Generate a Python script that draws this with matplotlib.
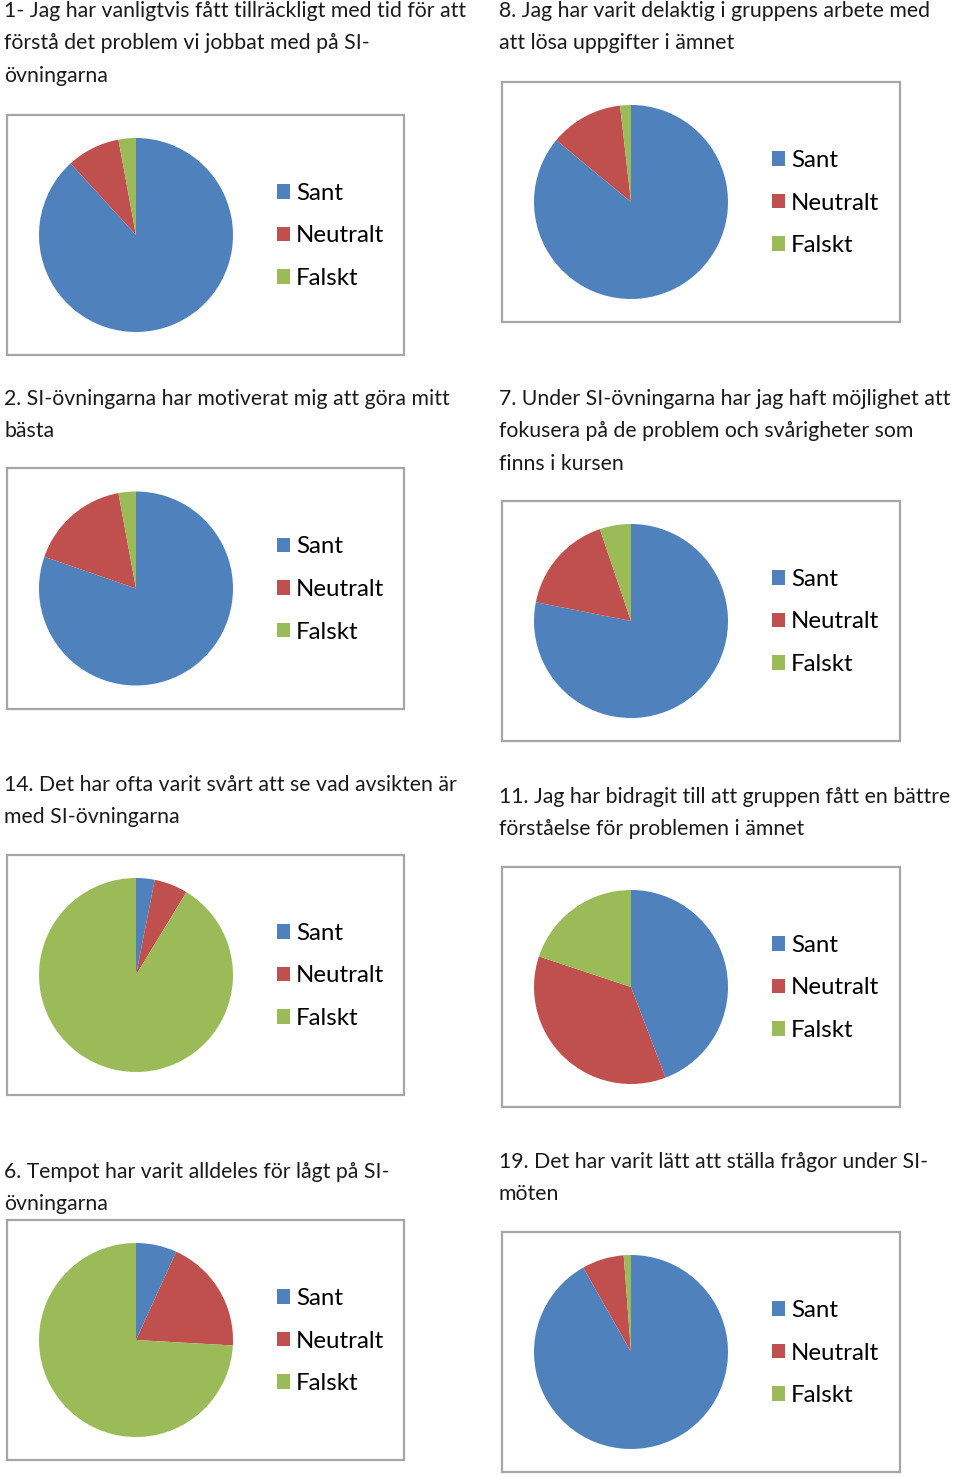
import matplotlib.pyplot as plt
from matplotlib.patches import Rectangle

plt.rcParams['font.family'] = ['Lato', 'DejaVu Sans']

W, H = 960, 1477

labels = ['Sant', 'Neutralt', 'Falskt']
colors = ['#4F81BD', '#C0504D', '#9BBB59']

titles = [
    '1- Jag har vanligtvis fått tillräckligt med tid för att\nförstå det problem vi jobbat med på SI-\növningarna',
    '8. Jag har varit delaktig i gruppens arbete med\natt lösa uppgifter i ämnet',
    '2. SI-övningarna har motiverat mig att göra mitt\nbästa',
    '7. Under SI-övningarna har jag haft möjlighet att\nfokusera på de problem och svårigheter som\nfinns i kursen',
    '14. Det har ofta varit svårt att se vad avsikten är\nmed SI-övningarna',
    '11. Jag har bidragit till att gruppen fått en bättre\nförståelse för problemen i ämnet',
    '6. Tempot har varit alldeles för lågt på SI-\növningarna',
    '19. Det har varit lätt att ställa frågor under SI-\nmöten',
]

# percent shares: Sant, Neutralt, Falskt
values = [
    [88.2, 8.9, 2.9],
    [86.0, 12.2, 1.8],
    [80.3, 16.8, 2.9],
    [78.1, 16.7, 5.2],
    [3.1, 5.6, 91.3],
    [44.2, 35.9, 19.9],
    [6.8, 19.1, 74.1],
    [91.8, 7.0, 1.2],
]

# layout in pixels: title top y, box (x0, y0, x1, y1)
title_y = [1, 1, 389, 389, 775, 787, 1162, 1152]
boxes = [
    (7, 115, 404, 355),
    (502, 82, 900, 322),
    (7, 468, 404, 709),
    (502, 501, 900, 741),
    (7, 855, 404, 1095),
    (502, 867, 900, 1107),
    (7, 1220, 404, 1460),
    (502, 1232, 900, 1472),
]
title_x = [4, 499, 4, 499, 4, 499, 4, 499]

fig = plt.figure(figsize=(W / 100, H / 100), dpi=100)


def fx(x):
    return x / W


def fy(y):
    return 1 - y / H


R = 97
for i in range(8):
    x0, y0, x1, y1 = boxes[i]
    fig.patches.append(Rectangle((fx(x0), fy(y1)), fx(x1 - x0), (y1 - y0) / H,
                                 transform=fig.transFigure, fill=False,
                                 edgecolor='#a6a6a6', linewidth=1.6))
    fig.text(fx(title_x[i]), fy(title_y[i]), titles[i], ha='left', va='top',
             fontsize=15.3, color='#1a1a1a', linespacing=1.78)

    cx = x0 + 129
    cy = (y0 + y1) / 2
    ax = fig.add_axes([fx(cx - R), fy(cy + R), fx(2 * R), 2 * R / H])
    wedges, _ = ax.pie(values[i], colors=colors, startangle=90, counterclock=False,
                       wedgeprops=dict(linewidth=0))
    ax.set_xlim(-1, 1)
    ax.set_ylim(-1, 1)
    ax.axis('off')

    fig.legend(wedges, labels, loc='center left',
               bbox_to_anchor=(fx(x0 + 258), fy(cy + 1)),
               frameon=False, fontsize=17.3, handlelength=0.55, handleheight=0.55,
               handletextpad=0.25, labelspacing=0.9, borderpad=0)

fig.savefig('out.png', dpi=100, facecolor='white')
